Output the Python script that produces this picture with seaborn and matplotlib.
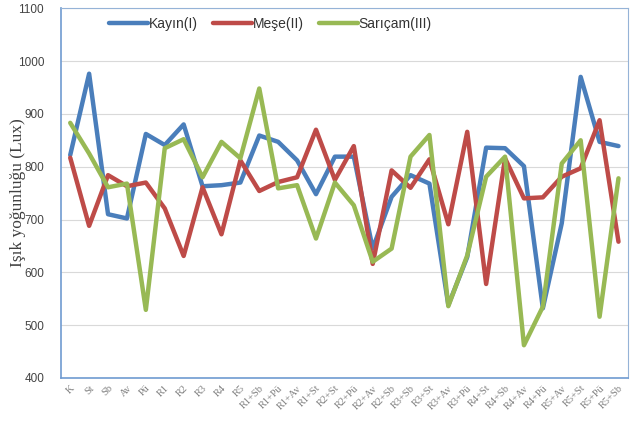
import matplotlib.pyplot as plt
import pandas as pd
import seaborn as sns

sns.set_style('white')

categories = ['K', 'St', 'Sb', 'Av', 'Pü', 'R1', 'R2', 'R3', 'R4', 'R5',
              'R1+Sb', 'R1+Pü', 'R1+Av', 'R1+St', 'R2+St', 'R2+Pü', 'R2+Av',
              'R2+Sb', 'R3+Sb', 'R3+St', 'R3+Av', 'R3+Pü', 'R4+St', 'R4+Sb',
              'R4+Av', 'R4+Pü', 'R5+Av', 'R5+St', 'R5+Pü', 'R5+Sb']

kayin = [822, 976, 710, 702, 862, 841, 880, 763, 765, 770,
         859, 847, 812, 748, 819, 819, 645, 743, 784, 768,
         538, 629, 836, 835, 801, 532, 693, 970, 847, 839]
mese = [817, 688, 784, 763, 770, 721, 631, 761, 672, 812,
        754, 771, 780, 870, 775, 839, 616, 793, 760, 814,
        691, 866, 578, 816, 740, 742, 781, 797, 888, 658]
saricam = [883, 825, 761, 768, 529, 835, 852, 780, 847, 816,
           948, 759, 765, 664, 770, 727, 620, 645, 819, 860,
           536, 632, 781, 819, 462, 535, 806, 850, 516, 778]

series = ['Kayın(I)', 'Meşe(II)', 'Sarıçam(III)']
colors = ['#4A7EBB', '#BE4B48', '#98B954']

df = pd.DataFrame({
    'x': list(range(len(categories))) * 3,
    'lux': kayin + mese + saricam,
    'tür': [s for s in series for _ in categories],
})

fig, ax = plt.subplots(figsize=(6.33, 4.32), dpi=100)
fig.subplots_adjust(left=0.096, right=0.992, top=0.981, bottom=0.125)

sns.lineplot(data=df, x='x', y='lux', hue='tür', palette=colors,
             linewidth=3.2, sort=False, ax=ax)

ax.set_xlim(-0.5, len(categories) - 0.5)
ax.set_ylim(400, 1100)
ax.set_yticks(range(400, 1101, 100))
ax.yaxis.grid(True, color='#d9d9d9', linewidth=0.8)
ax.set_axisbelow(True)
ax.set_xticks(range(len(categories)))
ax.set_xticklabels(categories, rotation=45, ha='right', rotation_mode='anchor',
                   fontsize=7.5, family='Liberation Serif', color='#808080')
ax.tick_params(axis='y', labelsize=8.5, colors='#444444', length=0, pad=12)
ax.tick_params(axis='x', length=0, pad=4)
for lbl in ax.get_yticklabels():
    lbl.set_family('Liberation Sans')

ax.set_xlabel('')
ax.set_ylabel('Işık yoğunluğu (Lux)', family='Liberation Serif', fontsize=12.5,
              color='#404040', labelpad=-6)

for side in ['top', 'right']:
    ax.spines[side].set_color('#95B3D7')
    ax.spines[side].set_linewidth(0.8)
for side in ['left', 'bottom']:
    ax.spines[side].set_color('#6F9BD1')
    ax.spines[side].set_linewidth(1.2)

ax.legend(loc='center', ncol=3, frameon=False, handlelength=2.8,
          handletextpad=0.05, columnspacing=1.1,
          prop={'family': ['Liberation Sans Narrow', 'Liberation Sans'], 'size': 10},
          bbox_to_anchor=(0.37, 0.958))
for line in ax.get_legend().get_lines():
    line.set_linewidth(3.2)
for txt in ax.get_legend().get_texts():
    txt.set_color('#333333')

plt.savefig('out.png', dpi=100)
